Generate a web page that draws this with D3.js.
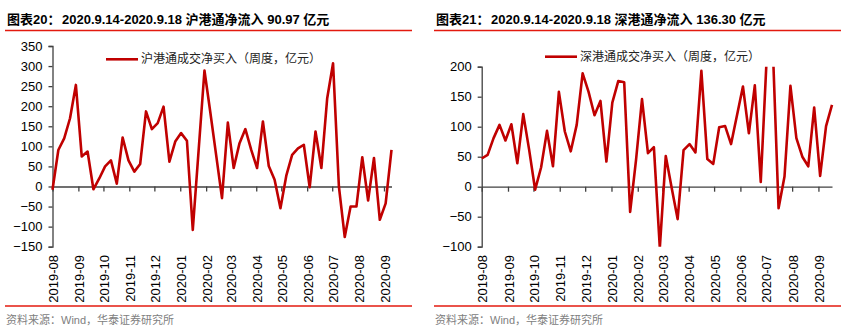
<!DOCTYPE html>
<html>
<head>
<meta charset="utf-8">
<script src="https://cdn.jsdelivr.net/npm/d3@7"></script>
<style>
body { margin: 0; background: #fff; }
svg { display: block; }
</style>
</head>
<body>
<div id="chart"></div>
<script>

//
// Data
//
var shValues = [-8, 91, 120, 170, 253, 75, 87, -7, 20, 50, 65, 7, 122, 65, 37, 56, 187, 143, 158, 199,
    62, 112, 133, 114, -108, 90, 289, 185, 78, -29, 159, 46, 108, 143, 91, 46, 162, 51, 17, -54,
    27, 79, 95, 104, -2, 137, 46, 220, 307, 0, -126, -50, -50, 73, -35, 71, -83, -42, 90.97];

var szValues = [47, 53, 81, 103, 77, 104, 39, 121, 61, -5, 32, 93, 34, 158, 92, 59, 103, 189, 158, 119,
    143, 42, 140, 176, 174, -42, 45, 146, 56, 66, -102, 51, -2, -54, 61, 71, 57, 193, 46, 38,
    99, 101, 71, 119, 167, 89, 169, 8, 215, 240, -36, 17, 168, 81, 50, 34, 132, 18, 101, 136.30];

var shStart = "2019-08-09",
    szStart = "2019-08-02",
    lastWeek = "2020-09-18";

var monthLabels = ["2019-08", "2019-09", "2019-10", "2019-11", "2019-12", "2020-01", "2020-02",
    "2020-03", "2020-04", "2020-05", "2020-06", "2020-07", "2020-08", "2020-09"];

var shYTicks = [-150, -100, -50, 0, 50, 100, 150, 200, 250, 300, 350];
var szYTicks = [-100, -50, 0, 50, 100, 150, 200];

//
// Global Vars
//
var parse = d3.timeParse("%Y-%m-%d"),
    ruleRed = "#e31a0f",
    lineRed = "#c00000",
    axisGrey = "#404040",
    latin = "'Liberation Sans', Arial, 'Noto Sans CJK SC', sans-serif";

var svg = d3.select("#chart").append("svg")
    .attr("width", 855)
    .attr("height", 334);

svg.append("rect")
    .attr("width", 855)
    .attr("height", 334)
    .attr("fill", "#fff");

//
// One panel
//
function drawPanel(p) {
    var g = svg.append("g")
        .attr("transform", "translate(" + p.left + ",0)");

    var weeks = d3.timeFriday.range(parse(p.start), d3.timeDay.offset(parse(lastWeek), 1));
    var data = weeks.map(function(d, i) { return {date: d, value: p.values[i]}; });

    var x = d3.scaleTime()
        .domain([weeks[0], weeks[weeks.length - 1]])
        .range([p.x0, p.x1]);
    var y = d3.scaleLinear()
        .domain([p.yTicks[0], p.yTicks[p.yTicks.length - 1]])
        .range([246.7, p.yTop]);

    // title + rules
    var title = g.append("text")
        .attr("y", 24)
        .attr("font-family", latin)
        .attr("font-size", "13px")
        .attr("font-weight", "bold")
        .attr("fill", "#000");
    title.append("tspan").attr("x", p.titleX).text(p.label);
    title.append("tspan").attr("x", p.titleX + 55).text(p.title);

    [30.5, 306].forEach(function(yy) {
        g.append("line")
            .attr("x1", p.titleX - 2).attr("x2", p.titleX + 405)
            .attr("y1", yy).attr("y2", yy)
            .attr("stroke", ruleRed)
            .attr("stroke-width", 1.3);
    });

    g.append("text")
        .attr("x", p.titleX - 1)
        .attr("y", 324)
        .attr("font-family", latin)
        .attr("font-size", "11px")
        .attr("fill", "#808080")
        .text("资料来源：Wind，华泰证券研究所");

    // y axis
    var yAxis = g.append("g")
        .attr("transform", "translate(" + p.x0 + ",0)")
        .call(d3.axisLeft(y).tickValues(p.yTicks).tickSize(4).tickSizeOuter(4).tickFormat(d3.format("d")));
    yAxis.selectAll("text")
        .attr("font-family", latin)
        .attr("font-size", "13px")
        .attr("fill", "#000")
        .attr("x", -10);
    yAxis.selectAll("line, path").attr("stroke", axisGrey).attr("stroke-width", 1.3);

    // x axis along zero
    var tickDates = monthLabels.map(function(m, i) { return d3.timeMonth.offset(weeks[0], i); });
    var xAxis = g.append("g")
        .attr("transform", "translate(0," + y(0) + ")")
        .call(d3.axisBottom(x).tickValues(tickDates).tickSize(5).tickSizeOuter(0).tickFormat(""));
    xAxis.selectAll("line, path").attr("stroke", axisGrey).attr("stroke-width", 1.3);

    g.selectAll(".xlabel")
        .data(tickDates)
        .enter().append("text")
        .attr("class", "xlabel")
        .attr("transform", function(d) { return "translate(" + (x(d) + 1) + ",255) rotate(-90)"; })
        .attr("text-anchor", "end")
        .attr("dy", "0.35em")
        .attr("font-family", latin)
        .attr("font-size", "13px")
        .attr("fill", "#000")
        .text(function(d, i) { return monthLabels[i]; });

    // line, clipped to plot area
    g.append("clipPath")
        .attr("id", "clip" + p.left)
        .append("rect")
        .attr("x", p.x0 - 5)
        .attr("y", p.yTop)
        .attr("width", p.x1 - p.x0 + 10)
        .attr("height", 246.7 - p.yTop);

    g.append("path")
        .datum(data)
        .attr("clip-path", "url(#clip" + p.left + ")")
        .attr("fill", "none")
        .attr("stroke", lineRed)
        .attr("stroke-width", 2.6)
        .attr("stroke-linejoin", "round")
        .attr("d", d3.line()
            .x(function(d) { return x(d.date); })
            .y(function(d) { return y(d.value); }));

    // legend
    g.append("line")
        .attr("x1", p.legX).attr("x2", p.legX + 32)
        .attr("y1", p.legY).attr("y2", p.legY)
        .attr("stroke", lineRed)
        .attr("stroke-width", 2.6);
    g.append("text")
        .attr("x", p.legX + 35)
        .attr("y", p.legY + 4)
        .attr("font-family", "'Noto Sans CJK SC', sans-serif")
        .attr("font-size", "12px")
        .attr("fill", "#222")
        .text(p.legend);
}

drawPanel({
    left: 0, start: shStart, values: shValues, yTicks: shYTicks,
    x0: 52.5, x1: 391.5, yTop: 46, titleX: 7, legX: 106, legY: 59.3,
    label: "图表20：", title: "2020.9.14-2020.9.18 沪港通净流入 90.97 亿元",
    legend: "沪港通成交净买入（周度，亿元）"
});

drawPanel({
    left: 430, start: szStart, values: szValues, yTicks: szYTicks,
    x0: 51.7, x1: 402, yTop: 66.7, titleX: 6, legX: 115, legY: 56.7,
    label: "图表21：", title: "2020.9.14-2020.9.18 深港通净流入 136.30 亿元",
    legend: "深港通成交净买入（周度，亿元）"
});

</script>
</body>
</html>
